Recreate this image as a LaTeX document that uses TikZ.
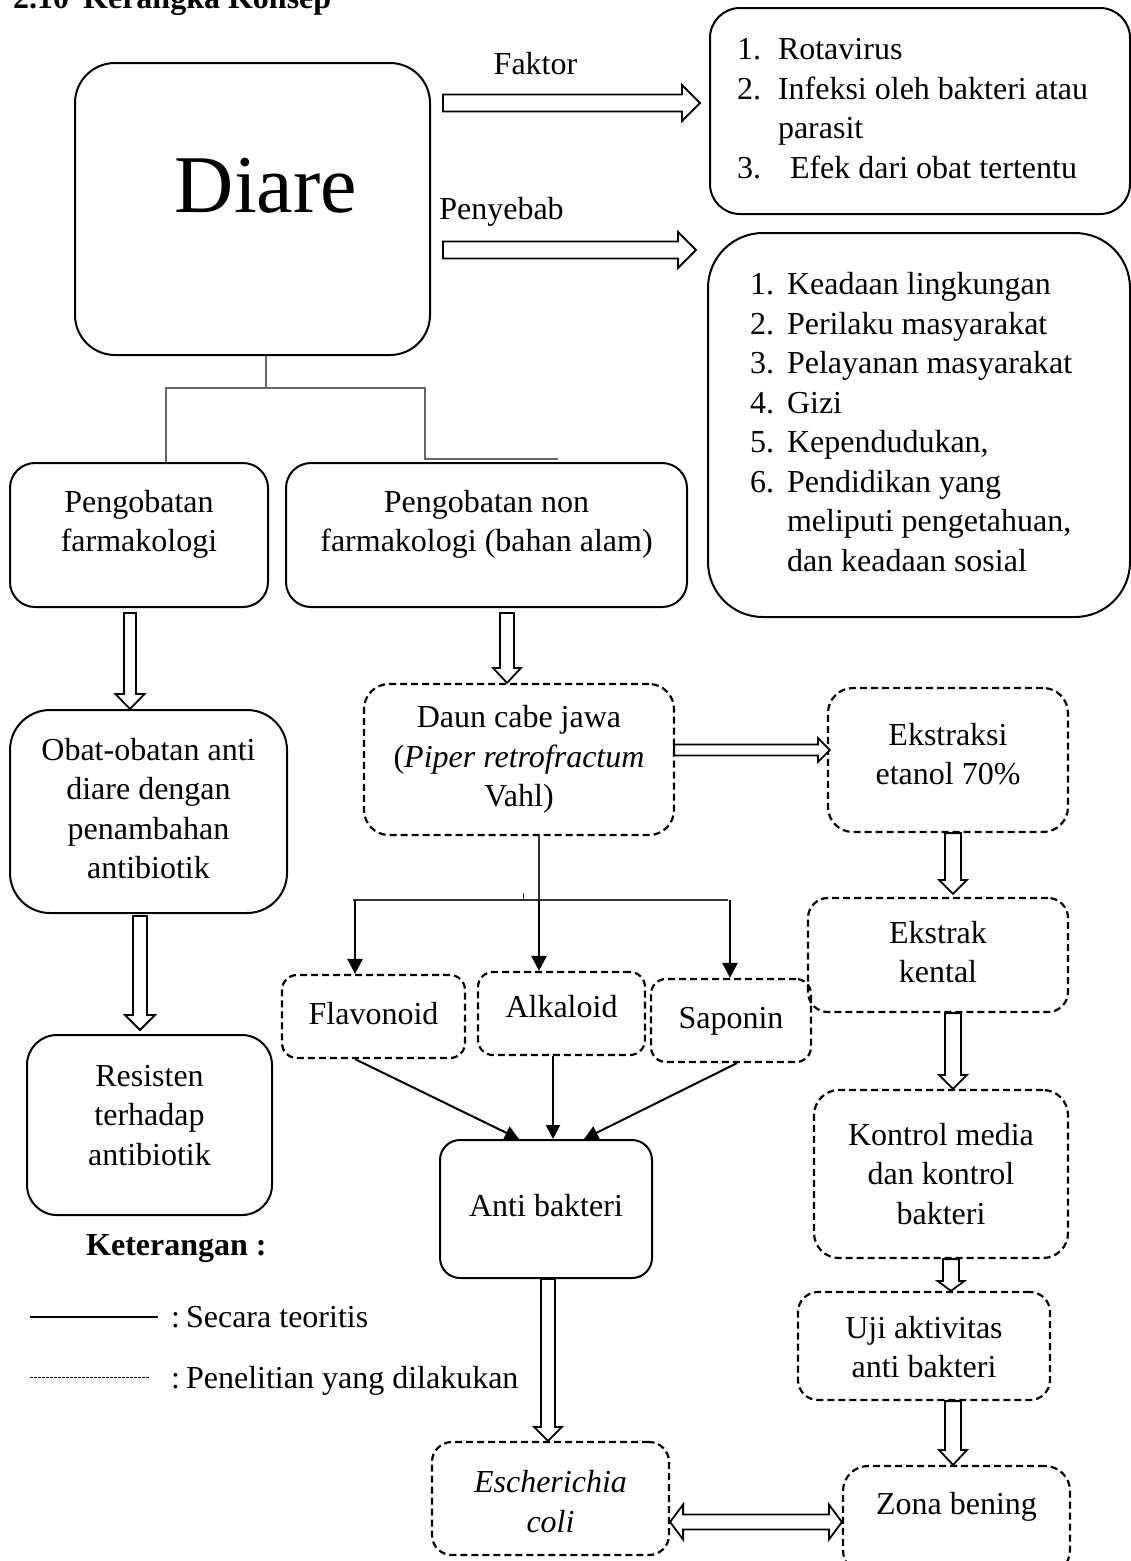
\documentclass[tikz,border=0pt]{standalone}
\usepackage{fontspec}
\setmainfont{Liberation Serif}
\usetikzlibrary{calc,arrows.meta}
\newcommand\ctext[2]{\raisebox{#1}[\height][\depth]{\begin{tabular}{@{}c@{}}#2\end{tabular}}}
\newcommand\ltext[2]{\makebox[#1][l]{\begin{tabular}{@{}l@{}}#2\end{tabular}}}
% hollow arrows: #1 ref coordinate, #2 from, #3 to, #4 half shaft, #5 half head, #6 head length
\newcommand\hdn[6]{\draw[hollow] let \p3=(#1), \p1=(#2), \p2=(#3) in
  (\x3-#4pt,\y1) -- (\x3-#4pt,\y2+#6pt) -- (\x3-#5pt,\y2+#6pt) -- (\x3,\y2) -- (\x3+#5pt,\y2+#6pt) -- (\x3+#4pt,\y2+#6pt) -- (\x3+#4pt,\y1) -- cycle;}
\newcommand\hrt[6]{\draw[hollow] let \p3=(#1), \p1=(#2), \p2=(#3) in
  (\x1,\y3+#4pt) -- (\x2-#6pt,\y3+#4pt) -- (\x2-#6pt,\y3+#5pt) -- (\x2,\y3) -- (\x2-#6pt,\y3-#5pt) -- (\x2-#6pt,\y3-#4pt) -- (\x1,\y3-#4pt) -- cycle;}
\newcommand\hboth[6]{\draw[hollow] let \p3=(#1), \p1=(#2), \p2=(#3) in
  (\x1,\y3) -- (\x1+#6pt,\y3+#5pt) -- (\x1+#6pt,\y3+#4pt) -- (\x2-#6pt,\y3+#4pt) -- (\x2-#6pt,\y3+#5pt) -- (\x2,\y3) -- (\x2-#6pt,\y3-#5pt) -- (\x2-#6pt,\y3-#4pt) -- (\x1+#6pt,\y3-#4pt) -- (\x1+#6pt,\y3-#5pt) -- cycle;}
\tikzset{
  sbox/.style={draw=black, line width=2pt, rounded corners=#1, inner sep=0pt, text=black, font=\fontsize{32}{39.5}\selectfont},
  dbox/.style={sbox=#1, line width=2.2pt, dash pattern=on 7pt off 4pt},
  txt/.style={inner sep=0pt, text=black, font=\fontsize{32}{39.5}\selectfont},
  hollow/.style={draw=black, fill=white, line width=1.8pt, line join=miter},
  tline/.style={draw=black!60, line width=1.3pt},
  tree/.style={draw=black!80, line width=1.5pt},
  treearrow/.style={draw=black, line width=2.6pt, -{Triangle[length=15pt,width=15pt]}},
  convarrow/.style={draw=black, line width=2pt, -{Triangle[length=14pt,width=14pt]}}
}
\begin{document}
\begin{tikzpicture}[x=1pt,y=-1pt]
\useasboundingbox (0,0) rectangle (1131,1561);
\fill[white] (0,0) rectangle (1131,1561);

% title (cut off at the top edge)
\node[txt, anchor=base west, font=\fontsize{32}{39.5}\selectfont\bfseries] (title) at (13,8) {2.10\hspace{14pt}Kerangka Konsep};

% boxes
\node[sbox=40pt, minimum width=355pt, minimum height=292pt] (diare) at (252.5,209)
  {\fontsize{82}{90}\selectfont\ctext{15pt}{\hspace*{27pt}Diare}};
\node[sbox=30pt, minimum width=420pt, minimum height=206pt] (faktor) at (920,111)
  {\ltext{366pt}{\makebox[41pt][l]{1.}Rotavirus\\
   \makebox[41pt][l]{2.}Infeksi oleh bakteri atau\\
   \hspace*{41pt}parasit\\
   \makebox[53pt][l]{3.}Efek dari obat tertentu}};
\node[sbox=55pt, minimum width=422pt, minimum height=384pt] (penyebab) at (919,425)
  {\ltext{338pt}{\makebox[37pt][l]{1.}Keadaan lingkungan\\
   \makebox[37pt][l]{2.}Perilaku masyarakat\\
   \makebox[37pt][l]{3.}Pelayanan masyarakat\\
   \makebox[37pt][l]{4.}Gizi\\
   \makebox[37pt][l]{5.}Kependudukan,\\
   \makebox[37pt][l]{6.}Pendidikan yang\\
   \hspace*{37pt}meliputi pengetahuan,\\
   \hspace*{37pt}dan keadaan sosial}};
\node[sbox=25pt, minimum width=258pt, minimum height=144pt] (farm) at (139,535)
  {\ctext{11pt}{Pengobatan\\farmakologi}};
\node[sbox=25pt, minimum width=401pt, minimum height=144pt] (nonfarm) at (486.5,535)
  {\ctext{11pt}{Pengobatan non\\farmakologi (bahan alam)}};
\node[sbox=40pt, minimum width=277pt, minimum height=203pt] (obat) at (148.5,811.5)
  {\ctext{0pt}{Obat-obatan anti\\diare dengan\\penambahan\\antibiotik}};
\node[sbox=30pt, minimum width=245pt, minimum height=180pt] (resisten) at (149.5,1125)
  {\ctext{7pt}{Resisten\\terhadap\\antibiotik}};
\node[dbox=25pt, minimum width=310pt, minimum height=151pt] (daun) at (519,759.5)
  {\ctext{0pt}{Daun cabe jawa\\(\textit{Piper retrofractum}\\Vahl)}};
\node[dbox=25pt, minimum width=240pt, minimum height=144pt] (ekstraksi) at (948,760)
  {\ctext{3pt}{Ekstraksi\\etanol 70\%}};
\node[dbox=20pt, minimum width=260pt, minimum height=114pt] (ekstrak) at (938,955)
  {\ctext{0pt}{Ekstrak\\kental}};
\node[dbox=25pt, minimum width=254pt, minimum height=168pt] (kontrol) at (941,1174)
  {\ctext{-3pt}{Kontrol media\\dan kontrol\\bakteri}};
\node[dbox=20pt, minimum width=252pt, minimum height=108pt] (uji) at (924,1346)
  {\ctext{-4pt}{Uji aktivitas\\anti bakteri}};
\node[dbox=25pt, minimum width=227pt, minimum height=109pt] (zona) at (956.5,1520.5)
  {\ctext{14pt}{Zona bening}};
\node[dbox=20pt, minimum width=237pt, minimum height=113pt] (esch) at (550.5,1498.5)
  {\ctext{-6pt}{\textit{Escherichia}\\\textit{coli}}};
\node[sbox=20pt, minimum width=212pt, minimum height=138pt] (anti) at (546,1209)
  {\ctext{0pt}{Anti bakteri}};
\node[dbox=15pt, minimum width=183pt, minimum height=83pt] (flav) at (373.5,1016.5)
  {\ctext{0pt}{Flavonoid}};
\node[dbox=15pt, minimum width=167pt, minimum height=83pt] (alk) at (561.5,1013.5)
  {\ctext{4pt}{Alkaloid}};
\node[dbox=15pt, minimum width=160pt, minimum height=83pt] (sap) at (731,1020.5)
  {\ctext{0pt}{Saponin}};

% labels on the top arrows
\node[txt] (lfaktor) at (535.5,64) {Faktor};
\node[txt] (lpenyebab) at (501.5,212) {Penyebab};

% top hollow arrows
\coordinate (fa1) at (443,103);
\coordinate (fa2) at (700,103);
\coordinate (pa1) at (443,250);
\coordinate (pa2) at (696,250);
\hrt{fa1}{fa1}{fa2}{8.5}{18}{18}
\hrt{pa1}{pa1}{pa2}{8.5}{18}{18}

% tree from Diare
\coordinate (jd) at (266,388);
\coordinate (jl) at (166,388);
\coordinate (jr) at (425,388);
\coordinate (jr2) at (425,459);
\coordinate (jend) at (558,459);
\draw[tline] (jd |- diare.south) -- (jd);
\draw[tline] (jl |- farm.north) -- (jl) -- (jr) -- (jr2) -- (jend);

% hollow arrows, left and middle
\hdn{130,0}{$(farm.south)+(0,5)$}{obat.north}{6}{14.5}{15}
\hdn{140,0}{$(obat.south)+(0,2)$}{$(resisten.north)+(0,-4)$}{7}{15}{15}
\hdn{507,0}{$(nonfarm.south)+(0,5)$}{daun.north}{7}{14}{15}
\hrt{0,750}{$(daun.east)+(-1,0)$}{$(ekstraksi.west)+(3,0)$}{5.5}{12}{12}
\hdn{953,0}{ekstraksi.south}{$(ekstrak.north)+(0,-3)$}{8}{14}{14}
\hdn{953,0}{ekstrak.south}{kontrol.north}{8}{14}{14}
\hdn{951,0}{kontrol.south}{uji.north}{8}{13.5}{10}
\hdn{953,0}{uji.south}{zona.north}{8}{14}{15}
\hdn{548,0}{anti.south}{esch.north}{7}{14}{14}
\hboth{0,1522}{esch.east}{zona.west}{7.5}{17.5}{13}

% tree from Daun cabe jawa
\coordinate (dj) at (539,900);
\coordinate (dl) at (353,900);
\coordinate (dr) at (728,900);
\coordinate (dt) at (523,893);
\draw[tree] (dj |- daun.south) -- (dj);
\draw[tree] (dl) -- (dr);
\draw[tree, line width=1pt] (dt) -- (dt |- dj);
\draw[treearrow] (355,900) -- (355,0 |- flav.north);
\draw[treearrow] (dj) -- (dj |- alk.north);
\draw[treearrow] (730,900) -- (730,0 |- sap.north);

% compounds to Anti bakteri
\draw[convarrow] (355,0 |- flav.south) -- ($(anti.north)+(-27,0)$);
\draw[convarrow] (553,0 |- alk.south) -- (553,0 |- anti.north);
\draw[convarrow] (737,0 |- sap.south) -- ($(anti.north)+(38,0)$);

% legend
\node[txt, anchor=base west, font=\fontsize{32}{39.5}\selectfont\bfseries] (ket) at (86,1255) {Keterangan :};
\coordinate (ls1) at (30,1317);
\coordinate (ls2) at (158,1317);
\coordinate (ld1) at (30,1377);
\coordinate (ld2) at (150,1377);
\draw[black, line width=1.2pt] (ls1) -- (ls2);
\draw[black, line width=1pt, dash pattern=on 2.5pt off 1.5pt] (ld1) -- (ld2);
\node[txt, anchor=base west] (lsol) at (171,1327) {:\hspace{6pt}Secara teoritis};
\node[txt, anchor=base west] (ldash) at (171,1388) {:\hspace{6pt}Penelitian yang dilakukan};
\end{tikzpicture}
\end{document}
